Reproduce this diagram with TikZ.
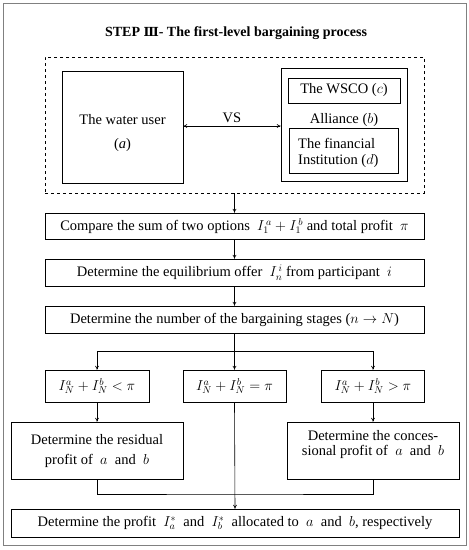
\documentclass[tikz,border=0pt]{standalone}
\usepackage{fontspec}
\setmainfont{Liberation Serif}
\newfontfamily\symfont{DejaVu Serif}
\usetikzlibrary{arrows.meta}
\begin{document}
\begin{tikzpicture}[x=1pt,y=-1pt,
  box/.style={draw, line width=0.6pt, inner sep=0pt, align=center, font=\fontsize{14.5}{16}\selectfont},
  txt/.style={inner sep=0pt, font=\fontsize{14.5}{16}\selectfont},
  arr/.style={-{To[length=4pt,width=4pt]}, line width=0.6pt},
  ln/.style={line width=0.6pt}]
\useasboundingbox (0,0) rectangle (469,550);
\draw[line width=1pt, gray] (3,3) rectangle (466,545);
\node[inner sep=0pt, font=\fontsize{14}{16}\selectfont\bfseries] (title) at (236,33) {STEP {\symfont\fontsize{12.5}{14}\selectfont Ⅲ}- The first-level bargaining process};
\node[draw, dashed, line width=0.7pt, minimum width=379pt, minimum height=136pt, inner sep=0pt] (dash) at (234.5,125) {};
\node[box, minimum width=121pt, minimum height=112pt] (water) at (122.5,127) {};
\node[txt] (wt1) at (122.5,120) {The water user};
\node[txt] (wt2) at (122.5,145) {($\mathit{a}$)};
\node[box, minimum width=126pt, minimum height=113pt] (alli) at (344,124.5) {};
\node[box, minimum width=112pt, minimum height=25pt] (wsco) at (344,90.5) {The WSCO ($c$)};
\node[txt] (allt) at (344,120) {Alliance ($b$)};
\node[box, minimum width=109pt, minimum height=45pt] (fin) at (343.5,150.5) {};
\node[txt, anchor=west] (ft1) at (298,143) {The financial};
\node[txt, anchor=west] (ft2) at (298,161) {Institution ($d$)};
\draw[{To[length=4pt,width=4pt]}-{To[length=4pt,width=4pt]}, line width=0.6pt] (water.east |- 0,126) -- node[txt, above=3pt] (vs) {VS} (alli.west |- 0,126);
\node[box, minimum width=379pt, minimum height=26pt] (cmp) at (234.5,226) {Compare the sum of two options \ $I_1^{\,a}+I_1^{\,b}$ and total profit \ $\pi$};
\node[box, minimum width=379pt, minimum height=27pt] (eq) at (234.5,272.5) {Determine the equilibrium offer \ $I_n^{\,i}$ from participant \ $i$};
\node[box, minimum width=379pt, minimum height=27pt] (stg) at (234.5,319.5) {Determine the number of the bargaining stages ($n\rightarrow N$)};
\node[box, minimum width=104pt, minimum height=32pt] (c1) at (97,386) {$I_N^a+I_N^b<\pi$};
\node[box, minimum width=103pt, minimum height=32pt] (c2) at (234.5,386) {$I_N^a+I_N^b=\pi$};
\node[box, minimum width=103pt, minimum height=32pt] (c3) at (373,386) {$I_N^a+I_N^b>\pi$};
\node[box, minimum width=172pt, minimum height=57pt] (res) at (97,450.5) {};
\node[txt] (rt1) at (97,440) {Determine the residual};
\node[txt] (rt2) at (97,461) {profit of \ $a$ \ and \ $b$};
\node[box, minimum width=172pt, minimum height=57pt] (con) at (373,450.5) {};
\node[txt] (ct1) at (373,436) {Determine the conces-};
\node[txt] (ct2) at (373,452) {sional profit of \ $a$ \ and \ $b$};
\node[box, minimum width=448pt, minimum height=28pt] (fin2) at (235,523) {Determine the profit \ $I_a^{*}$ \ and \ $I_b^{*}$ \ allocated to \ $a$ \ and \ $b$, respectively};
\coordinate (sp) at (234.5,351);
\coordinate (jn) at (234.5,494);
\draw[arr] (dash.south) -- (cmp.north);
\draw[arr] (cmp.south) -- (eq.north);
\draw[arr] (eq.south) -- (stg.north);
\draw[ln] (stg.south) -- (sp);
\draw[arr] (sp) -- (c2.north);
\draw[arr] (sp) -| (c1.north);
\draw[arr] (sp) -| (c3.north);
\draw[arr] (c1.south) -- (res.north);
\draw[arr] (c3.south) -- (con.north);
\draw[ln] (res.south) |- (jn) -| (con.south);
\draw[arr] (c2.south) -- (fin2.north);
\end{tikzpicture}
\end{document}
